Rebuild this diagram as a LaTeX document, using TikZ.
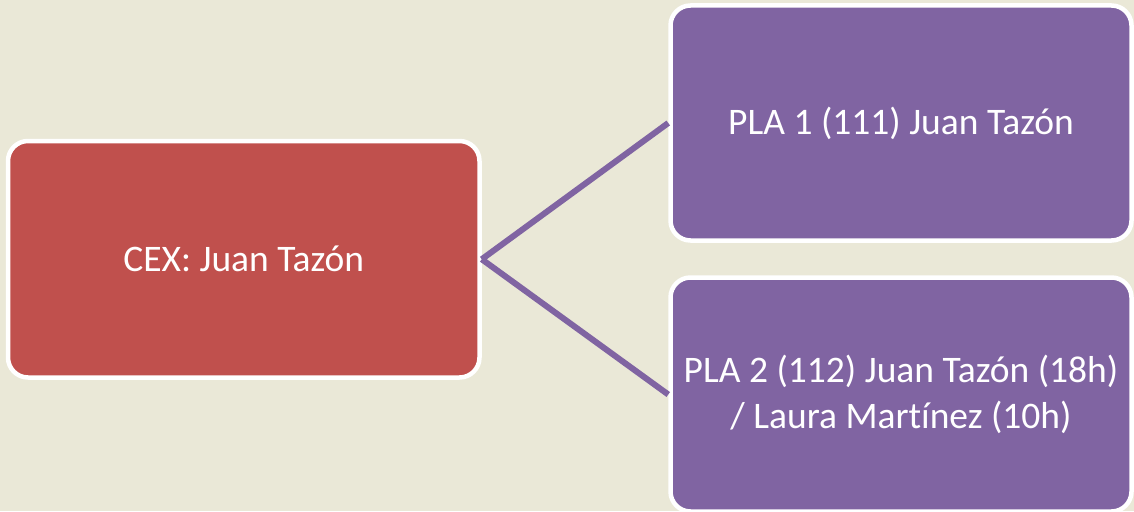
\documentclass[tikz,border=0pt]{standalone}
\usepackage{fontspec}
\setmainfont{Carlito}[Ligatures=NoCommon]
\usepackage{tikz}
\usetikzlibrary{arrows,positioning}
\definecolor{bgtan}{HTML}{EAE8D7}
\definecolor{cexred}{HTML}{C0504D}
\definecolor{plapurple}{HTML}{8064A2}

\begin{document}
\begin{tikzpicture}[x=1pt,y=-1pt]
		\tikzstyle{box}=[rectangle,draw=white,line width=4.5pt,rounded corners=20pt,
			text=white,align=center,font=\fontsize{37.5}{46}\selectfont]
		\tikzstyle{link}=[draw=plapurple,line width=6pt]

		\useasboundingbox[fill=bgtan] (0,0) rectangle (1134,511);

		\node[box,fill=cexred,minimum width=471.5pt,minimum height=236.5pt] (cex) at (243.75,259.25) {CEX: Juan Tazón};
		\node[box,fill=plapurple,minimum width=461pt,minimum height=235pt] (pla1) at (901,123) {PLA 1 (111) Juan Tazón};
		\node[box,fill=plapurple,minimum width=461pt,minimum height=234pt] (pla2) at (901,394.5) {PLA 2 (112) Juan Tazón (18h)\\/ Laura Mart\kern0ptínez (10h)};

		\draw[link] (cex.east) -- (pla1.west);
		\draw[link] (cex.east) -- (pla2.west);
	\end{tikzpicture}
\end{document}
